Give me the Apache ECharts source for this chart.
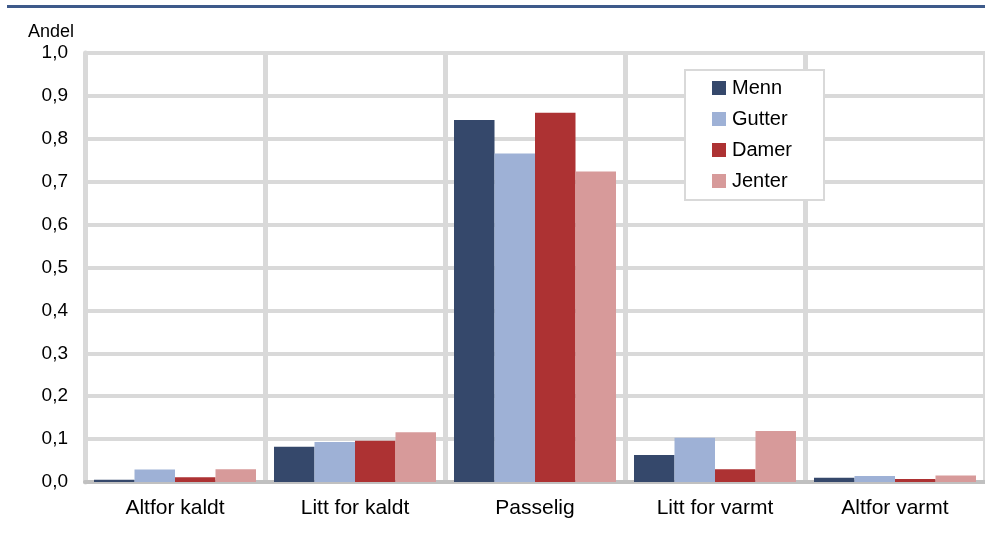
<!DOCTYPE html>
<html>
<head>
<meta charset="utf-8">
<script src="https://cdn.jsdelivr.net/npm/echarts@6/dist/echarts.min.js"></script>
<style>
  html, body { margin: 0; padding: 0; background: #ffffff; }
  #chart { width: 985px; height: 533px; }
</style>
</head>
<body>
<div id="chart"></div>
<script>
// Temperaturopplevelse fordelt på gruppe
const categories = ['Altfor kaldt', 'Litt for kaldt', 'Passelig', 'Litt for varmt', 'Altfor varmt'];
const menn   = [0.005, 0.082, 0.844, 0.063, 0.010];
const gutter = [0.029, 0.093, 0.766, 0.103, 0.014];
const damer  = [0.011, 0.096, 0.861, 0.030, 0.007];
const jenter = [0.030, 0.116, 0.724, 0.119, 0.015];
const seriesNames = ['Menn', 'Gutter', 'Damer', 'Jenter'];
const seriesColors = ['#35486b', '#9eb1d6', '#ad3233', '#d79a9a'];
const yTicks = { min: 0, max: 1, interval: 0.1 };

const FONT = '"Liberation Sans", Arial, sans-serif';
const values = [menn, gutter, damer, jenter];

const chart = echarts.init(document.getElementById('chart'), null, { renderer: 'canvas' });

chart.setOption({
  animation: false,
  backgroundColor: '#ffffff',
  textStyle: { fontFamily: FONT },
  graphic: [
    {
      type: 'rect',
      shape: { x: 7, y: 5, width: 978, height: 3 },
      style: { fill: '#3e5a8a' },
      silent: true
    }
  ],
  grid: { left: 85, right: 0, top: 53, bottom: 51, containLabel: false },
  legend: {
    orient: 'vertical',
    left: 685,
    top: 70,
    data: seriesNames,
    icon: 'rect',
    itemWidth: 14,
    itemHeight: 14,
    itemGap: 11,
    padding: [8, 32, 9, 27],
    backgroundColor: '#ffffff',
    borderColor: '#d9d9d9',
    borderWidth: 2,
    textStyle: { fontFamily: FONT, fontSize: 20, color: '#000000', padding: [0, 0, 0, 1] }
  },
  xAxis: {
    type: 'category',
    data: categories,
    boundaryGap: true,
    axisLine: { show: true, lineStyle: { color: '#c0c0c0', width: 4 } },
    axisTick: { show: false },
    splitLine: { show: true, interval: 0, lineStyle: { color: '#d9d9d9', width: 5 } },
    axisLabel: { fontFamily: FONT, fontSize: 21, color: '#000000', margin: 16 }
  },
  yAxis: {
    type: 'value',
    min: yTicks.min,
    max: yTicks.max,
    interval: yTicks.interval,
    name: 'Andel',
    nameLocation: 'end',
    nameGap: 12,
    nameTextStyle: { fontFamily: FONT, fontSize: 18, color: '#000000', align: 'right', padding: [0, 11, 0, 0] },
    axisLine: { show: true, lineStyle: { color: '#d9d9d9', width: 5 } },
    axisTick: { show: false },
    splitLine: { show: true, lineStyle: { color: '#d9d9d9', width: 4 } },
    axisLabel: {
      fontFamily: FONT, fontSize: 19, color: '#000000', margin: 17,
      formatter: v => v.toFixed(1).replace('.', ',')
    }
  },
  series: seriesNames.map((name, i) => ({
    name: name,
    type: 'bar',
    data: values[i],
    barGap: '0%',
    barCategoryGap: '10%',
    itemStyle: { color: seriesColors[i] },
    z: 3
  }))
});
</script>
</body>
</html>
